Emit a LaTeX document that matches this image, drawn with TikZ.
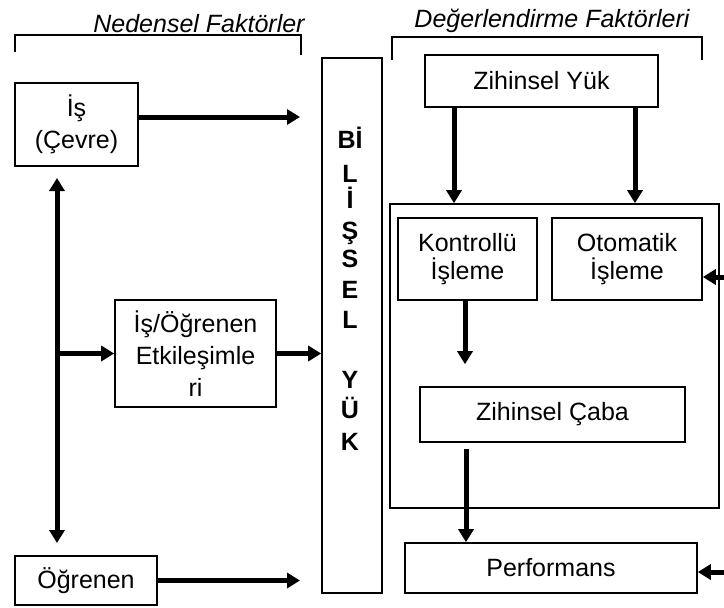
\documentclass[tikz,border=0pt]{standalone}
\usepackage{fontspec}
\setmainfont{Liberation Sans}
\usepackage{tikz}
\usetikzlibrary{arrows.meta}
\tikzset{fontscale/.style = {font=\fontsize{12.5}{16}\selectfont}}
\tikzstyle{box}=[rectangle, draw, line width=0.8pt, align=center, inner sep=0pt, fontscale]
\tikzstyle{legend_normal}=[rectangle, inner sep=0pt, font=\fontsize{12.5}{15}\selectfont\itshape]
\tikzstyle{tall_text}=[rectangle, inner sep=0pt, anchor=base, font=\fontsize{12.5}{15}\selectfont\bfseries]

\begin{document}
\begin{tikzpicture}[x=0.5pt, y=-0.5pt,
  arr/.style={line width=2.5pt,-{Triangle[length=6.5pt,width=7.5pt]}},
  dbl/.style={line width=2.5pt,{Triangle[length=6.5pt,width=7.5pt]}-{Triangle[length=6.5pt,width=7.5pt]}},
  bracket/.style={line width=0.6pt}]
\useasboundingbox (0,0) rectangle (724,607);

% headings
\node[legend_normal, anchor=base] (ned) at (199,32) {Nedensel Faktörler};
\node[legend_normal, anchor=base] (deg) at (552,27) {Değerlendirme Faktörleri};
\draw[bracket] (15,52) -- (15,35) -- (301,35) -- (301,55);
\draw[bracket] (392,60) -- (392,37) -- (702,37) -- (702,60);

% left column
\node[box, minimum width=61.5pt, minimum height=41.5pt] (is) at (76.5,124.5) {İş\\(Çevre)};
\node[box, minimum width=80.5pt, minimum height=53.5pt] (etk) at (195.5,353.5) {İş/Öğrenen\\Etkileşimle\\ri};
\node[box, minimum width=71pt, minimum height=24.5pt] (ogr) at (86,580.5) {Öğrenen};

% middle bar
\node[box, minimum width=30pt, minimum height=267.5pt] (bilis) at (352,325.5) {};
\foreach \ch/\yy [count=\i] in {Bİ/148, L/182, İ/208, Ş/239, S/267, E/298, L/328, Y/388, Ü/418, K/450}
  \node[tall_text] (b\i) at (350,\yy) {\ch};

% right column
\node[box, minimum width=116.5pt, minimum height=26pt] (zyuk) at (541.5,81) {Zihinsel Yük};
\node[box, minimum width=164.5pt, minimum height=152pt] (frame) at (554.5,356) {};
\node[box, minimum width=69.5pt, minimum height=41pt, font=\fontsize{12.5}{14}\selectfont] (kont) at (467.5,259) {Kontrollü\\İşleme};
\node[box, minimum width=75pt, minimum height=41pt, font=\fontsize{12.5}{14}\selectfont] (otom) at (627,259) {Otomatik\\İşleme};
\node[box, minimum width=132.5pt, minimum height=27.5pt] (caba) at (552.5,414.5) {Zihinsel Çaba};
\node[box, minimum width=146pt, minimum height=25pt] (perf) at (551,568) {Performans};

% free ends
\coordinate (c_is) at (300,117);
\coordinate (c_ogr) at (300,580);
\coordinate (v_top) at (57,178);
\coordinate (v_bot) at (57,543);
\coordinate (z_l) at (454,0);
\coordinate (z_r) at (635,0);
\coordinate (k_x) at (465,0);
\coordinate (c_x) at (466,0);
\coordinate (r_otom) at (724,277);
\coordinate (r_perf) at (724,572);

% links
  \path[arr] (c_is -| is.east) edge (c_is);
  \path[arr] (ogr.east) edge (ogr.east -| c_ogr);
  \path[arr] (etk.east) edge (etk.east -| bilis.west);
  \path[dbl] (v_top) edge (v_bot);
  \path[arr] (etk.west -| v_top) edge (etk.west);

  \path[arr] (zyuk.south -| z_l) edge (frame.north -| z_l);
  \path[arr] (zyuk.south -| z_r) edge (frame.north -| z_r);
  \path[arr, shorten >=11pt] (kont.south -| k_x) edge (caba.north -| k_x);
  \path[arr, shorten <=3pt] (caba.south -| c_x) edge (perf.north -| c_x);
  \path[arr] (r_otom) edge (r_otom -| otom.east);
  \path[arr] (r_perf) edge (r_perf -| perf.east);
\end{tikzpicture}
\end{document}
